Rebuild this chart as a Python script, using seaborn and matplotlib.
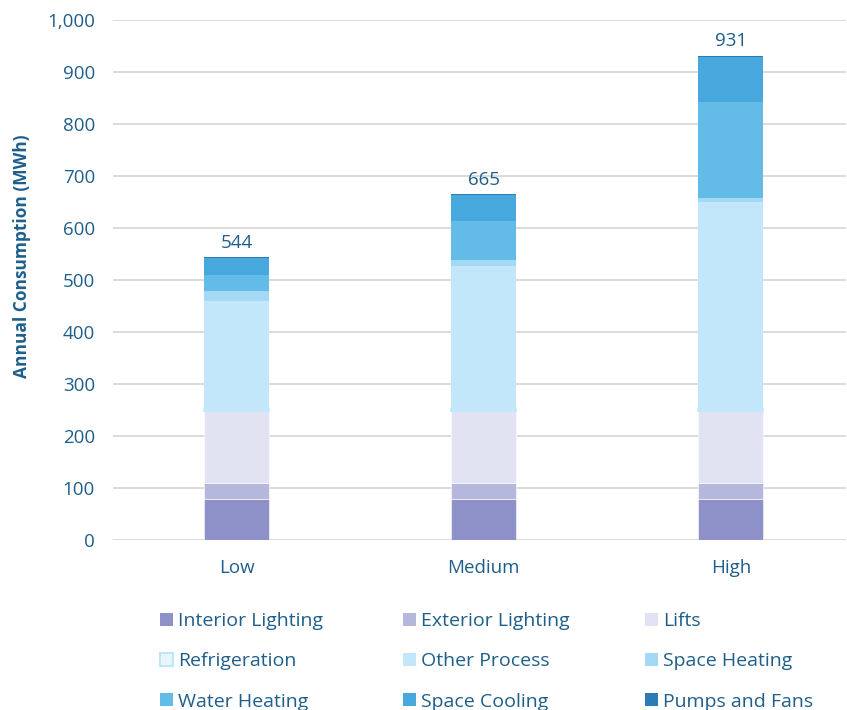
import numpy as np
import matplotlib
matplotlib.use("Agg")
import matplotlib.pyplot as plt
from matplotlib.patches import Patch
from matplotlib.ticker import FuncFormatter
import seaborn as sns

# Scenario categories and end-use consumption (MWh)
scenarios = ["Low", "Medium", "High"]
interior_lighting = [79, 79, 79]
exterior_lighting = [30, 30, 30]
lifts = [139, 139, 139]
refrigeration = [3, 3, 3]
other_process = [208, 276, 399]
space_heating = [19, 11, 8]
water_heating = [31, 76, 185]
space_cooling = [33, 49, 85]
pumps_and_fans = [2, 2, 3]

y_ticks = list(range(0, 1001, 100))

TEXT = "#1E5F8A"
GRID = "#D9D9D9"

series = [
    ("Interior Lighting", interior_lighting, "#8D91C7", "white", 0.4),
    ("Exterior Lighting", exterior_lighting, "#B6B7DD", "white", 0.4),
    ("Lifts", lifts, "#E1E2F2", "white", 0.4),
    ("Refrigeration", refrigeration, "#E8F5FC", "#BDE6F9", 1.2),
    ("Other Process", other_process, "#C3E7FA", "none", 0),
    ("Space Heating", space_heating, "#A3D9F5", "none", 0),
    ("Water Heating", water_heating, "#63BBE8", "none", 0),
    ("Space Cooling", space_cooling, "#47A8DD", "none", 0),
    ("Pumps and Fans", pumps_and_fans, "#2B7CB4", "none", 0),
]

sns.set_style("white")
plt.rcParams["font.family"] = ["Open Sans", "DejaVu Sans"]

W, H = 847, 710
fig = plt.figure(figsize=(W / 100, H / 100), dpi=100)
ax = fig.add_axes([113 / W, 170 / H, (846 - 113) / W, 520 / H])

bar_width = 0.263
bottom = np.zeros(len(scenarios))
for name, vals, face, edge, lw in series:
    sns.barplot(x=scenarios, y=vals, order=scenarios, bottom=bottom,
                color=face, saturation=1, width=bar_width, errorbar=None,
                edgecolor=edge, linewidth=lw, ax=ax, zorder=3)
    bottom = bottom + np.array(vals, dtype=float)

# Total labels above each stack
for i, total in enumerate(bottom):
    ax.annotate(f"{int(round(total)):,}", xy=(i, total), xytext=(0, 4),
                textcoords="offset points", ha="center", va="bottom",
                fontsize=13.5, color=TEXT)

ax.set_ylim(0, 1000)
ax.set_xlim(-0.5, 2.466)
ax.set_yticks(y_ticks)
ax.yaxis.set_major_formatter(FuncFormatter(lambda v, _: f"{int(v):,}"))
ax.grid(axis="y", color=GRID, linewidth=1.3)
ax.grid(axis="x", visible=False)
ax.set_axisbelow(True)
for s in ax.spines.values():
    s.set_visible(False)
ax.tick_params(axis="y", length=0, pad=13, labelsize=13.5, labelcolor=TEXT)
ax.tick_params(axis="x", length=0, pad=14, labelsize=13.5, labelcolor=TEXT)
ax.set_xlabel("")
ax.set_ylabel("Annual Consumption (MWh)", fontsize=12.5, fontweight="bold", color=TEXT)
ax.yaxis.set_label_coords(-0.124, 0.546)
ax.yaxis.label.set_verticalalignment("center")

# Legend laid out as three columns, filled row by row
col_groups = [[0, 3, 6], [1, 4, 7], [2, 5, 8]]
col_x = [160, 403, 645]
for cx, idx in zip(col_x, col_groups):
    handles = [Patch(facecolor=series[i][2],
                     edgecolor=series[i][3] if series[i][0] == "Refrigeration" else series[i][2],
                     linewidth=1.5 if series[i][0] == "Refrigeration" else 0)
               for i in idx]
    fig.legend(handles, [series[i][0] for i in idx], loc="upper left",
               bbox_to_anchor=(cx / W, 1 - 612 / H), frameon=False,
               fontsize=14, handlelength=0.65, handleheight=0.65,
               handletextpad=0.3, labelspacing=1.15, borderpad=0,
               borderaxespad=0, labelcolor=TEXT)

fig.savefig("out.png", dpi=100)
